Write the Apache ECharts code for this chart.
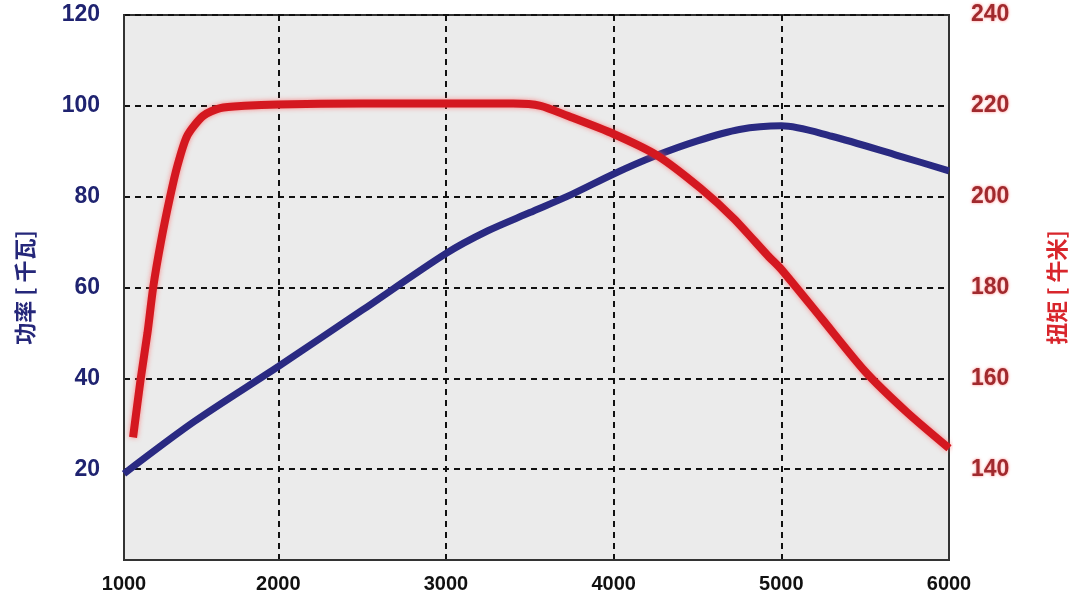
<!DOCTYPE html>
<html>
<head>
<meta charset="utf-8">
<script src="https://cdn.jsdelivr.net/npm/echarts@6/dist/echarts.min.js"></script>
<style>
html,body{margin:0;padding:0;background:#fff;}
#chart{width:1080px;height:607px;}
</style>
</head>
<body>
<div id="chart"></div>
<script>
// X axis (rpm)
var xMin = 1080, xMax = 6000;
var xTickValues = [2000, 3000, 4000, 5000, 6000];
var xLabelValues = [1080, 2000, 3000, 4000, 5000, 6000];
var xLabelTexts = ['1000', '2000', '3000', '4000', '5000', '6000'];

// Power curve (kW, left axis)
var powerRpm = [1080, 1500, 2000, 2500, 3000, 3250, 3500, 3750, 4000, 4250, 4500, 4750, 5000, 5300, 5700, 6000];
var powerKw  = [19, 30.5, 42.6, 55, 67.5, 72.5, 76.5, 80.5, 85, 89, 92.3, 94.8, 95.6, 93.3, 89, 85.7];

// Torque curve (N·m, right axis)
var torqueRpm = [1134, 1180, 1220, 1254, 1300, 1355, 1400, 1457, 1552, 1654, 1800, 2000, 2500, 3000, 3400, 3564, 3725, 4000, 4263, 4520, 4716, 4920, 5000, 5240, 5500, 5750, 6000];
var torqueNm  = [147, 160, 170, 180, 190, 200, 207, 213.4, 217.8, 219.5, 220, 220.3, 220.5, 220.5, 220.5, 220, 217.8, 213.8, 209, 201.8, 195.2, 187, 184, 173.2, 161.5, 152.5, 144.6];

function pairs(xs, ys){ return xs.map(function(x,i){ return [x, ys[i]]; }); }

var chart = echarts.init(document.getElementById('chart'));
var gridLine = {show:true, lineStyle:{color:'#111', width:2, type:[6,5]}};
chart.setOption({
  animation:false,
  backgroundColor:'#fff',
  grid:{left:124, right:131, top:15, bottom:47, show:true, backgroundColor:'#ebebeb', borderColor:'#333', borderWidth:2},
  xAxis:{
    type:'value', min:xMin, max:xMax,
    axisLine:{show:true, lineStyle:{color:'#333', width:2}},
    axisTick:{show:false, customValues:xTickValues},
    splitLine:gridLine,
    axisLabel:{
      customValues:xLabelValues,
      formatter:function(v){ var i = xLabelValues.indexOf(v); return i>=0 ? xLabelTexts[i] : ''; },
      color:'#111', fontSize:20, fontWeight:'bold', fontFamily:'Liberation Sans', margin:14
    }
  },
  yAxis:[{
    type:'value', min:0, max:120, interval:20, position:'left',
    name:'功率 [ 千瓦]', nameLocation:'middle', nameRotate:90, nameGap:88,
    nameTextStyle:{color:'#25277a', fontSize:22, fontWeight:'bold', fontFamily:'Noto Sans CJK SC'},
    axisLine:{show:true, lineStyle:{color:'#333', width:2}},
    axisTick:{show:false},
    splitLine:gridLine,
    axisLabel:{showMinLabel:false, color:'#1f2370', fontSize:23, fontWeight:'bold', fontFamily:'Liberation Sans', margin:24}
  },{
    type:'value', min:120, max:240, interval:20, position:'right',
    name:'扭矩 [ 牛米]', nameLocation:'middle', nameRotate:90, nameGap:97,
    nameTextStyle:{color:'#d8262c', fontSize:22, fontWeight:'bold', fontFamily:'Noto Sans CJK SC'},
    axisLine:{show:true, lineStyle:{color:'#333', width:2}},
    axisTick:{show:false},
    splitLine:{show:false},
    axisLabel:{showMinLabel:false, color:'#a02a2e', fontSize:23, fontWeight:'bold', fontFamily:'Liberation Sans', margin:22,
      textShadowColor:'rgba(255,60,60,0.6)', textShadowBlur:3}
  }],
  series:[{
    type:'line', yAxisIndex:0, data:pairs(powerRpm, powerKw), smooth:0.3, showSymbol:false,
    lineStyle:{color:'#2a2a82', width:7}
  },{
    type:'line', yAxisIndex:1, data:pairs(torqueRpm, torqueNm), smooth:0.25, showSymbol:false,
    lineStyle:{color:'#d41820', width:8, shadowColor:'rgba(255,90,90,0.7)', shadowBlur:5}
  }]
});
</script>
</body>
</html>
